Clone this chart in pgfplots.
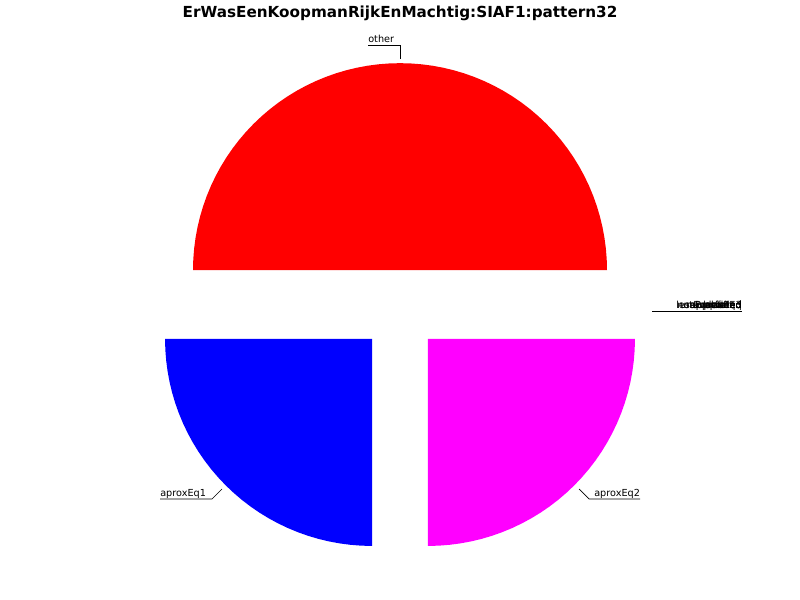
\documentclass[border=0pt]{standalone}
\usepackage{fontspec}
\setmainfont{DejaVu Sans}
\usepackage{pgfplots}
\pgfplotsset{compat=1.18}
\definecolor{sliceR}{RGB}{255,0,0}
\definecolor{sliceB}{RGB}{0,0,255}
\definecolor{sliceM}{RGB}{255,0,255}

% slice outlines as (angle, radius) pairs; radius in px of the 800x600 frame
\newcommand{\upperhalf}{(0,0) (0,207) (3,207) (6,207) (9,207) (12,207) (15,207) (18,207) (21,207) (24,207) (27,207) (30,207) (33,207) (36,207) (39,207) (42,207) (45,207) (48,207) (51,207) (54,207) (57,207) (60,207) (63,207) (66,207) (69,207) (72,207) (75,207) (78,207) (81,207) (84,207) (87,207) (90,207) (93,207) (96,207) (99,207) (102,207) (105,207) (108,207) (111,207) (114,207) (117,207) (120,207) (123,207) (126,207) (129,207) (132,207) (135,207) (138,207) (141,207) (144,207) (147,207) (150,207) (153,207) (156,207) (159,207) (162,207) (165,207) (168,207) (171,207) (174,207) (177,207) (180,207) (180,0)}

\begin{document}
\begin{tikzpicture}
\begin{axis}[
  width=8in, height=6in, scale only axis,
  xmin=-400, xmax=400, ymin=-289, ymax=311,
  hide axis, clip=false,
  font=\fontsize{7}{8}\selectfont]
  \path (axis cs:-400,-289) rectangle (axis cs:400,311);

  % other (50%), exploded upwards
  \addplot[fill=sliceR, draw=none, data cs=polar, yshift=29.5pt] coordinates {\upperhalf};
  % aproxEq1 (25%)
  \addplot[fill=sliceB, draw=none, data cs=polar, xshift=-20.2pt, yshift=-20.2pt] coordinates {
    (180,0) (180,207) (183,207) (186,207) (189,207) (192,207) (195,207) (198,207) (201,207) (204,207)
    (207,207) (210,207) (213,207) (216,207) (219,207) (222,207) (225,207) (228,207) (231,207) (234,207)
    (237,207) (240,207) (243,207) (246,207) (249,207) (252,207) (255,207) (258,207) (261,207) (264,207)
    (267,207) (270,207) (270,0)};
  % aproxEq2 (25%)
  \addplot[fill=sliceM, draw=none, data cs=polar, xshift=20.2pt, yshift=-20.2pt] coordinates {
    (270,0) (270,207) (273,207) (276,207) (279,207) (282,207) (285,207) (288,207) (291,207) (294,207)
    (297,207) (300,207) (303,207) (306,207) (309,207) (312,207) (315,207) (318,207) (321,207) (324,207)
    (327,207) (330,207) (333,207) (336,207) (339,207) (342,207) (345,207) (348,207) (351,207) (354,207)
    (357,207) (360,207) (360,0)};

  % labels and leader lines
  \draw[black, line width=0.5pt] (axis cs:0,252) -- (axis cs:0,266) -- (axis cs:-32,266);
  \node[anchor=base west, inner sep=0pt] at (axis cs:-32,268.5) {other};

  \draw[black, line width=0.5pt] (axis cs:-178,-178) -- (axis cs:-188,-188) -- (axis cs:-240,-188);
  \node[anchor=base west, inner sep=0pt] at (axis cs:-240,-185.5) {aproxEq1};

  \draw[black, line width=0.5pt] (axis cs:179,-178) -- (axis cs:189,-188) -- (axis cs:240,-188);
  \node[anchor=base west, inner sep=0pt] at (axis cs:194,-185.5) {aproxEq2};

  % zero-size slices, labels piled on top of each other
  \draw[black, line width=0.5pt] (axis cs:252,0) -- (axis cs:342,0);
  \node[anchor=base east, inner sep=0pt] at (axis cs:342,2.5) {lessPreciseEq};
  \node[anchor=base east, inner sep=0pt] at (axis cs:342,2.5) {unsupported};
  \node[anchor=base east, inner sep=0pt] at (axis cs:342,2.5) {notEvaluated};
  \node[anchor=base east, inner sep=0pt] at (axis cs:342,2.5) {approxEq3};
  \node[anchor=base east, inner sep=0pt] at (axis cs:342,2.5) {undefined};
  \node[anchor=base east, inner sep=0pt] at (axis cs:342,2.5) {failed};
  \node[anchor=base east, inner sep=0pt] at (axis cs:342,2.5) {lowered};

  \node[font=\bfseries\fontsize{11}{13}\selectfont, anchor=center] at (axis cs:0,298) {ErWasEenKoopmanRijkEnMachtig:SIAF1:pattern32};
\end{axis}
\end{tikzpicture}
\end{document}
